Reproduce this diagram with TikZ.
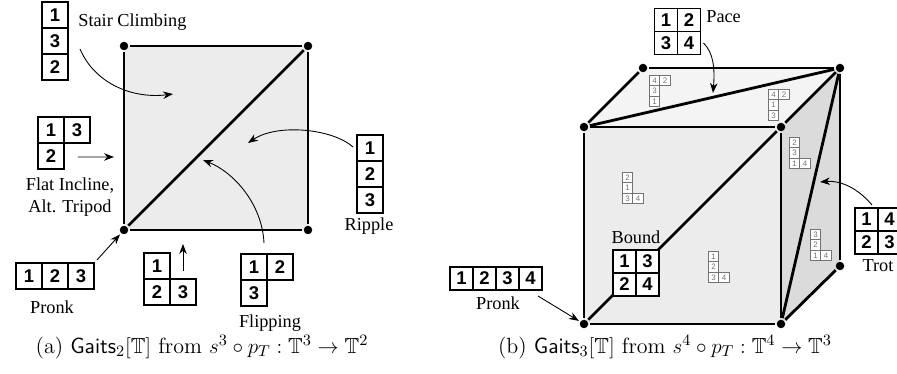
\documentclass[tikz,border=0pt]{standalone}
\usepackage{fontspec}
\usepackage{amssymb}
\newfontfamily\labelfont{Liberation Serif}
\newfontfamily\cellfont{Liberation Sans}
\usetikzlibrary{positioning, calc, arrows.meta}

\definecolor{frontgray}{gray}{0.925}
\definecolor{topgray}{gray}{0.955}
\definecolor{sidegray}{gray}{0.86}
\definecolor{tinygray}{gray}{0.45}

\begin{document}
\begin{tikzpicture}[
  x=0.02cm, y=-0.02cm,
  gaitcell/.style={rectangle, draw, line width=0.6pt, fill=white, minimum size=0.52cm, inner sep=0pt, outer sep=0pt, font=\cellfont\bfseries\fontsize{10.5}{12}\selectfont},
  bigcell/.style={gaitcell, minimum size=0.46cm},
  minicell/.style={rectangle, draw=tinygray, line width=0.4pt, fill=white, text=tinygray, minimum size=0.21cm, inner sep=0pt, outer sep=0pt, font=\cellfont\fontsize{4.5}{5}\selectfont},
  dot/.style={circle, fill=black, minimum size=0.17cm, inner sep=0pt, outer sep=1pt},
  rim/.style={line width=1.6pt},
  pointer/.style={-{Stealth[length=2mm, width=1.5mm]}, line width=0.5pt},
  lbl/.style={font=\labelfont\fontsize{10.4}{12.4}\selectfont, align=center, inner sep=0pt},
  caption/.style={font=\fontsize{12.5}{14}\selectfont, inner sep=0pt}
]
\useasboundingbox (0,0) rectangle (897,374);

%------------------------------------------------
% (a) square
%------------------------------------------------
\coordinate (sq_tl) at (124,46);
\coordinate (sq_tr) at (308,46);
\coordinate (sq_bl) at (124,230);
\coordinate (sq_br) at (308,230);
\fill[frontgray] (sq_bl) rectangle (sq_tr);

\node[dot] (a_tl) at (sq_tl) {};
\node[dot] (a_tr) at (sq_tr) {};
\node[dot] (a_bl) at (sq_bl) {};
\node[dot] (a_br) at (sq_br) {};

\draw[rim] (a_tl) -- (a_tr);
\draw[rim] (a_tr) -- (a_br);
\draw[rim] (a_br) -- (a_bl);
\draw[rim] (a_bl) -- (a_tl);
\draw[rim] (a_bl) -- (a_tr);

% Stair Climbing
\node[gaitcell] (sc1) at (55,15) {1};
\node[gaitcell, below=0pt of sc1] (sc3) {3};
\node[gaitcell, below=0pt of sc3] (sc2) {2};
\node[lbl, anchor=west] (sc_lbl) at (78,22) {Stair Climbing};
\coordinate (sc_tail) at ($(sc3.east)+(12,8)$);
\coordinate (sc_tip) at (173,94);
\draw[pointer] (sc_tail) .. controls ($(sc_tail)+(15,35)$) and ($(sc_tip)+(-40,5)$) .. (sc_tip);

% Flat Incline, Alt. Tripod
\node[gaitcell] (fi1) at (51,130) {1};
\node[gaitcell, right=0pt of fi1] (fi3) {3};
\node[gaitcell, below=0pt of fi1] (fi2) {2};
\node[lbl] (fi_lbl) at (70,197) {Flat Incline,\\Alt. Tripod};
\coordinate (fi_tail) at ($(fi2.east)+(14,1)$);
\coordinate (fi_tip) at (114,157);
\draw[pointer] (fi_tail) -- (fi_tip);

% Pronk
\node[gaitcell] (pk1) at (29,276) {1};
\node[gaitcell, right=0pt of pk1] (pk2) {2};
\node[gaitcell, right=0pt of pk2] (pk3) {3};
\node[lbl] (pk_lbl) at (52,307) {Pronk};
\coordinate (pk_tail) at ($(pk3.north east)+(3,-3)$);
\draw[pointer] (pk_tail) -- (a_bl);

% bottom edge
\node[gaitcell] (bt1) at (157,266) {1};
\node[gaitcell, below=0pt of bt1] (bt2) {2};
\node[gaitcell, right=0pt of bt2] (bt3) {3};
\coordinate (bt_tail) at ($(bt3.north)+(0,-8)$);
\coordinate (bt_tip) at ($(bt3.north)+(0,-35)$);
\draw[pointer] (bt_tail) -- (bt_tip);

% Flipping
\node[gaitcell] (fl1) at (254,267) {1};
\node[gaitcell, right=0pt of fl1] (fl2) {2};
\node[gaitcell, below=0pt of fl1] (fl3) {3};
\node[lbl] (fl_lbl) at (270,323) {Flipping};
\coordinate (fl_tail) at ($(fl1.north east)+(-3,-11)$);
\coordinate (fl_tip) at (203,160);
\draw[pointer] (fl_tail) .. controls ($(fl_tail)+(-2,-40)$) and ($(fl_tip)+(30,12)$) .. (fl_tip);

% Ripple
\node[gaitcell] (ri1) at (370,148) {1};
\node[gaitcell, below=0pt of ri1] (ri2) {2};
\node[gaitcell, below=0pt of ri2] (ri3) {3};
\node[lbl] (ri_lbl) at (369,226) {Ripple};
\coordinate (ri_tail) at ($(ri1.west)+(-4,-1)$);
\coordinate (ri_tip) at (248,143);
\draw[pointer] (ri_tail) .. controls ($(ri_tail)+(-20,-18)$) and ($(ri_tip)+(30,-20)$) .. (ri_tip);

\node[caption] (cap_a) at (202,347) {(a) $\mathsf{Gaits}_2[\mathbb{T}]$ from $s^3\circ p_T : \mathbb{T}^3\rightarrow\mathbb{T}^2$};

%------------------------------------------------
% (b) cube
%------------------------------------------------
\coordinate (cb_ftl) at (584,127);
\coordinate (cb_ftr) at (781,127);
\coordinate (cb_fbl) at (584,324);
\coordinate (cb_fbr) at (781,324);
\coordinate (cb_btl) at (643,68);
\coordinate (cb_btr) at (840,68);
\coordinate (cb_bbr) at (840,266);
\fill[topgray] (cb_ftl) -- (cb_ftr) -- (cb_btr) -- (cb_btl) -- cycle;
\fill[frontgray] (cb_fbl) rectangle (cb_ftr);
\fill[sidegray] (cb_ftr) -- (cb_btr) -- (cb_bbr) -- (cb_fbr) -- cycle;

\node[dot] (c_ftl) at (cb_ftl) {};
\node[dot] (c_ftr) at (cb_ftr) {};
\node[dot] (c_fbl) at (cb_fbl) {};
\node[dot] (c_fbr) at (cb_fbr) {};
\node[dot] (c_btl) at (cb_btl) {};
\node[dot] (c_btr) at (cb_btr) {};
\node[dot] (c_bbr) at (cb_bbr) {};

\draw[rim] (c_btl) -- (c_btr);
\draw[rim] (c_ftl) -- (c_btl);
\draw[rim] (c_ftl) -- (c_btr);
\draw[rim] (c_ftl) -- (c_ftr);
\draw[rim] (c_ftr) -- (c_btr);
\draw[rim] (c_btr) -- (c_bbr);
\draw[rim] (c_ftl) -- (c_fbl);
\draw[rim] (c_fbl) -- (c_fbr);
\draw[rim] (c_fbr) -- (c_ftr);
\draw[rim] (c_fbr) -- (c_bbr);
\draw[rim] (c_fbr) -- (c_btr);
\draw[rim] (c_fbl) -- (c_ftr);

% small gaits on the faces
\node[minicell] (ta4) at (654.5,80.5) {4};
\node[minicell, right=0pt of ta4] (ta2) {2};
\node[minicell, below=0pt of ta4] (ta3) {3};
\node[minicell, below=0pt of ta3] (ta1) {1};

\node[minicell] (tb4) at (773.5,94.5) {4};
\node[minicell, right=0pt of tb4] (tb2) {2};
\node[minicell, below=0pt of tb4] (tb1) {1};
\node[minicell, below=0pt of tb1] (tb3) {3};

\node[minicell] (tc2) at (794.5,142.5) {2};
\node[minicell, below=0pt of tc2] (tc3) {3};
\node[minicell, below=0pt of tc3] (tc1) {1};
\node[minicell, right=0pt of tc1] (tc4) {4};

\node[minicell] (td2) at (627.5,177.5) {2};
\node[minicell, below=0pt of td2] (td1) {1};
\node[minicell, below=0pt of td1] (td3) {3};
\node[minicell, right=0pt of td3] (td4) {4};

\node[minicell] (te1) at (713.5,256.5) {1};
\node[minicell, below=0pt of te1] (te2) {2};
\node[minicell, below=0pt of te2] (te3) {3};
\node[minicell, right=0pt of te3] (te4) {4};

\node[minicell] (tf3) at (815.5,234.5) {3};
\node[minicell, below=0pt of tf3] (tf2) {2};
\node[minicell, below=0pt of tf2] (tf1) {1};
\node[minicell, right=0pt of tf1] (tf4) {4};

% Bound
\node[bigcell] (bo1) at (624.5,261.5) {1};
\node[bigcell, right=0pt of bo1] (bo3) {3};
\node[bigcell, below=0pt of bo1] (bo2) {2};
\node[bigcell, right=0pt of bo2] (bo4) {4};
\node[lbl] (bo_lbl) at (636,237) {Bound};

% Pace
\node[bigcell] (pc1) at (666,20) {1};
\node[bigcell, right=0pt of pc1] (pc2) {2};
\node[bigcell, below=0pt of pc1] (pc3) {3};
\node[bigcell, right=0pt of pc3] (pc4) {4};
\node[lbl, anchor=west] (pc_lbl) at (706,17) {Pace};
\coordinate (pc_tail) at ($(pc4.east)+(3,0)$);
\coordinate (pc_tip) at (713,93);
\draw[pointer] (pc_tail) .. controls ($(pc_tail)+(10,10)$) and ($(pc_tip)+(2,-25)$) .. (pc_tip);

% Pronk
\node[bigcell] (pr1) at (461.5,278.5) {1};
\node[bigcell, right=0pt of pr1] (pr2) {2};
\node[bigcell, right=0pt of pr2] (pr3) {3};
\node[bigcell, right=0pt of pr3] (pr4) {4};
\node[lbl] (pr_lbl) at (498,303) {Pronk};
\coordinate (pr_tail) at ($(pr4.south east)+(-4,6)$);
\draw[pointer] (pr_tail) -- (c_fbl);

% Trot
\node[bigcell] (tr1) at (866.5,219.5) {1};
\node[bigcell, right=0pt of tr1] (tr4) {4};
\node[bigcell, below=0pt of tr1] (tr2) {2};
\node[bigcell, right=0pt of tr2] (tr3) {3};
\node[lbl] (tr_lbl) at (878,266) {Trot};
\coordinate (tr_tail) at ($(tr1.north east)+(-6,-3)$);
\coordinate (tr_tip) at (820,182);
\draw[pointer] (tr_tail) .. controls ($(tr_tail)+(-10,-12)$) and ($(tr_tip)+(25,-2)$) .. (tr_tip);

\node[caption] (cap_b) at (665,347) {(b) $\mathsf{Gaits}_3[\mathbb{T}]$ from $s^4\circ p_T : \mathbb{T}^4\rightarrow\mathbb{T}^3$};

\end{tikzpicture}
\end{document}
